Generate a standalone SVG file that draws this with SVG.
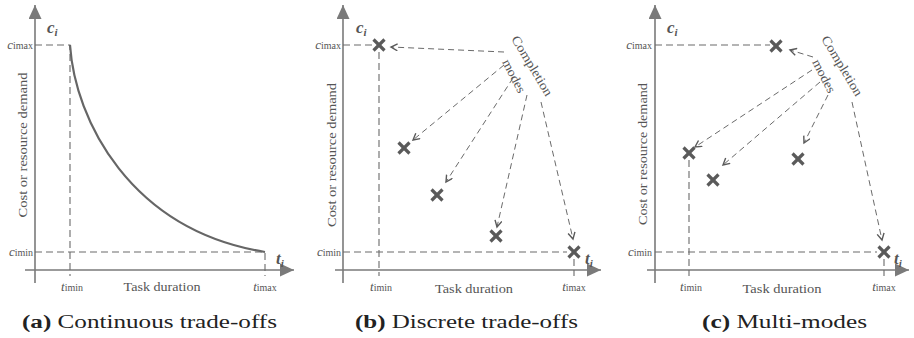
<svg xmlns="http://www.w3.org/2000/svg" width="914" height="338" viewBox="0 0 914 338">
<defs>
<style>
.ax{stroke:#7a7a7a;stroke-width:1.6;fill:none}
.gd{stroke:#6a6a6a;stroke-width:1.1;fill:none;stroke-dasharray:7,4}
.cn{stroke:#6a6a6a;stroke-width:1;fill:none;stroke-dasharray:6,4}
.cv{stroke:#666;stroke-width:2.2;fill:none}
.x{stroke:#5a5a5a;stroke-width:3.2;stroke-linecap:butt}
.t{font-family:"Liberation Serif","Times New Roman",serif;fill:#555}
.lab{font-size:12px}
.ci{font-size:17px;font-weight:bold;font-style:italic}
.cm{font-size:13px}
.cap{font-family:"Liberation Serif","Times New Roman",serif;fill:#222;font-size:18px}
</style>
<marker id="ah" markerUnits="userSpaceOnUse" markerWidth="16" markerHeight="14" refX="14" refY="6.5" orient="auto">
<path d="M0,0 L14,6.5 L0,13 z" fill="#7a7a7a"/>
</marker>
<marker id="oa" markerUnits="userSpaceOnUse" markerWidth="10" markerHeight="10" refX="7" refY="4" orient="auto">
<path d="M0.5,0.5 L7,4 L0.5,7.5" fill="none" stroke="#5a5a5a" stroke-width="1.4"/>
</marker>
<g id="xm"><line class="x" x1="-5.5" y1="-5.5" x2="5.5" y2="5.5"/><line class="x" x1="-5.5" y1="5.5" x2="5.5" y2="-5.5"/></g>
</defs>
<rect width="914" height="338" fill="#fff"/>

<!-- Panel (a) -->
<g id="panel-a">
<line class="ax" x1="35" y1="283" x2="35" y2="5" marker-end="url(#ah)"/>
<line class="ax" x1="25" y1="270" x2="294" y2="270" marker-end="url(#ah)"/>
<path class="gd" d="M35,45 H70 V276"/>
<path class="gd" d="M35,252 H265 V276"/>
<path id="curve-a" class="cv" d="M70,45 C75,120 130,230 265,252"/>
<text class="t ci" x="47" y="33">c<tspan font-size="11" dy="3">i</tspan></text>
<text class="t ci" x="276" y="264">t<tspan font-size="11" dy="3">i</tspan></text>
<text class="t lab" x="33" y="49" text-anchor="end"><tspan font-style="italic" font-size="13">c</tspan><tspan font-size="10">imax</tspan></text>
<text class="t lab" x="33" y="256" text-anchor="end"><tspan font-style="italic" font-size="13">c</tspan><tspan font-size="10">imin</tspan></text>
<text class="t lab" x="72" y="291" text-anchor="middle"><tspan font-style="italic" font-size="13">t</tspan><tspan font-size="10">imin</tspan></text>
<text class="t lab" x="265" y="291" text-anchor="middle"><tspan font-style="italic" font-size="13">t</tspan><tspan font-size="10">imax</tspan></text>
<text class="t lab" x="162" y="291" text-anchor="middle" textLength="77" lengthAdjust="spacingAndGlyphs">Task duration</text>
<text class="t lab" transform="translate(27,145) rotate(-90)" text-anchor="middle" font-size="13" textLength="145" lengthAdjust="spacingAndGlyphs">Cost or resource demand</text>
<text class="cap" x="22" y="328" textLength="255" lengthAdjust="spacingAndGlyphs"><tspan font-weight="bold">(a)</tspan> Continuous trade-offs</text>
</g>

<!-- Panel (b) -->
<g id="panel-b">
<line class="ax" x1="343" y1="283" x2="343" y2="5" marker-end="url(#ah)"/>
<line class="ax" x1="335" y1="270" x2="601" y2="270" marker-end="url(#ah)"/>
<path class="gd" d="M343,45 H372 M379,52 V276"/>
<path class="gd" d="M343,252 H567 M574,259 V276"/>
<text class="t ci" x="356" y="33">c<tspan font-size="11" dy="3">i</tspan></text>
<text class="t ci" x="585" y="264">t<tspan font-size="11" dy="3">i</tspan></text>
<text class="t lab" x="341" y="49" text-anchor="end"><tspan font-style="italic" font-size="13">c</tspan><tspan font-size="10">imax</tspan></text>
<text class="t lab" x="341" y="256" text-anchor="end"><tspan font-style="italic" font-size="13">c</tspan><tspan font-size="10">imin</tspan></text>
<text class="t lab" x="381" y="291" text-anchor="middle"><tspan font-style="italic" font-size="13">t</tspan><tspan font-size="10">imin</tspan></text>
<text class="t lab" x="574" y="291" text-anchor="middle"><tspan font-style="italic" font-size="13">t</tspan><tspan font-size="10">imax</tspan></text>
<text class="t lab" x="474" y="293" text-anchor="middle" textLength="78" lengthAdjust="spacingAndGlyphs">Task duration</text>
<text class="t lab" transform="translate(336,155) rotate(-90)" text-anchor="middle" font-size="13" textLength="144" lengthAdjust="spacingAndGlyphs">Cost or resource demand</text>
<text class="t cm" transform="translate(511,39) rotate(59)" textLength="68" lengthAdjust="spacingAndGlyphs">Completion</text>
<text class="t cm" transform="translate(502,62) rotate(63)" textLength="36" lengthAdjust="spacingAndGlyphs">modes</text>
<g id="b-m1"><use href="#xm" x="379" y="45"/></g>
<g id="b-m2"><use href="#xm" x="404" y="148"/></g>
<g id="b-m3"><use href="#xm" x="437" y="195"/></g>
<g id="b-m4"><use href="#xm" x="496" y="236"/></g>
<g id="b-m5"><use href="#xm" x="574" y="252"/></g>
<text class="cap" x="355" y="328" textLength="223" lengthAdjust="spacingAndGlyphs"><tspan font-weight="bold">(b)</tspan> Discrete trade-offs</text>
</g>

<!-- Panel (c) -->
<g id="panel-c">
<line class="ax" x1="655" y1="283" x2="655" y2="5" marker-end="url(#ah)"/>
<line class="ax" x1="647" y1="270" x2="909" y2="270" marker-end="url(#ah)"/>
<path class="gd" d="M655,45 H770"/>
<path class="gd" d="M689,160 V276"/>
<path class="gd" d="M655,252 H877 M884,259 V276"/>
<text class="t ci" x="667" y="33">c<tspan font-size="11" dy="3">i</tspan></text>
<text class="t ci" x="894" y="264">t<tspan font-size="11" dy="3">i</tspan></text>
<text class="t lab" x="652" y="49" text-anchor="end"><tspan font-style="italic" font-size="13">c</tspan><tspan font-size="10">imax</tspan></text>
<text class="t lab" x="652" y="256" text-anchor="end"><tspan font-style="italic" font-size="13">c</tspan><tspan font-size="10">imin</tspan></text>
<text class="t lab" x="691" y="291" text-anchor="middle"><tspan font-style="italic" font-size="13">t</tspan><tspan font-size="10">imin</tspan></text>
<text class="t lab" x="884" y="291" text-anchor="middle"><tspan font-style="italic" font-size="13">t</tspan><tspan font-size="10">imax</tspan></text>
<text class="t lab" x="782" y="293" text-anchor="middle" textLength="79" lengthAdjust="spacingAndGlyphs">Task duration</text>
<text class="t lab" transform="translate(647,154) rotate(-90)" text-anchor="middle" font-size="13" textLength="142" lengthAdjust="spacingAndGlyphs">Cost or resource demand</text>
<text class="t cm" transform="translate(821,39) rotate(59)" textLength="68" lengthAdjust="spacingAndGlyphs">Completion</text>
<text class="t cm" transform="translate(812,62) rotate(63)" textLength="36" lengthAdjust="spacingAndGlyphs">modes</text>
<g id="c-m1"><use href="#xm" x="776" y="46"/></g>
<g id="c-m2"><use href="#xm" x="689" y="153"/></g>
<g id="c-m3"><use href="#xm" x="713" y="180"/></g>
<g id="c-m4"><use href="#xm" x="798" y="159"/></g>
<g id="c-m5"><use href="#xm" x="884" y="252"/></g>
<text class="cap" x="702" y="328" textLength="165" lengthAdjust="spacingAndGlyphs"><tspan font-weight="bold">(c)</tspan> Multi-modes</text>
</g>

<!-- Connectors -->
<g id="connectors">
<line class="cn" x1="504" y1="52" x2="391" y2="47" marker-end="url(#oa)"/>
<line class="cn" x1="504" y1="65" x2="413" y2="140" marker-end="url(#oa)"/>
<line class="cn" x1="513" y1="78" x2="446" y2="182" marker-end="url(#oa)"/>
<line class="cn" x1="527" y1="95" x2="497" y2="227" marker-end="url(#oa)"/>
<line class="cn" x1="541" y1="102" x2="573" y2="239" marker-end="url(#oa)"/>
<line class="cn" x1="813" y1="57" x2="790" y2="50" marker-end="url(#oa)"/>
<line class="cn" x1="812" y1="70" x2="695" y2="147" marker-end="url(#oa)"/>
<line class="cn" x1="820" y1="82" x2="723" y2="165" marker-end="url(#oa)"/>
<line class="cn" x1="828" y1="95" x2="804" y2="143" marker-end="url(#oa)"/>
<line class="cn" x1="852" y1="102" x2="882" y2="240" marker-end="url(#oa)"/>
</g>
</svg>
